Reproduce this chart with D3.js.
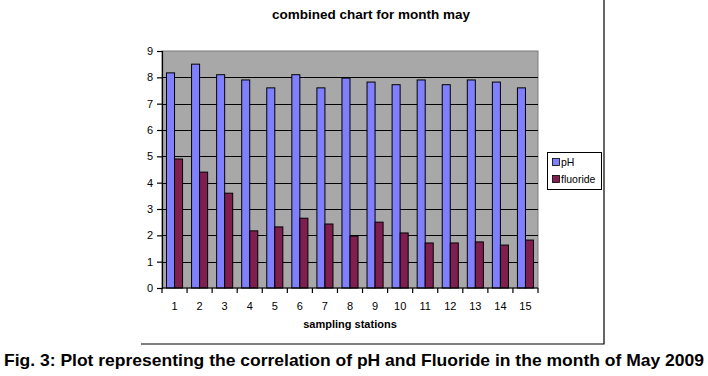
<!DOCTYPE html>
<html>
<head>
<meta charset="utf-8">
<script src="https://cdn.jsdelivr.net/npm/d3@7"></script>
<style>
	body { margin: 0; background: #fff; }
	svg { display: block; font-family: Arial, 'Liberation Sans', sans-serif; }
</style>
</head>
<body>
<div id="chart"></div>
<script>
// data
const stations = ['1', '2', '3', '4', '5', '6', '7', '8', '9', '10', '11', '12', '13', '14', '15'];
const phValues = [8.17, 8.5, 8.1, 7.9, 7.6, 8.1, 7.6, 7.97, 7.82, 7.72, 7.9, 7.72, 7.9, 7.82, 7.6];
const fluorideValues = [4.9, 4.4, 3.6, 2.17, 2.32, 2.65, 2.43, 1.97, 2.5, 2.09, 1.71, 1.71, 1.75, 1.63, 1.82];
const seriesNames = ['pH', 'fluoride'];
const yTicks = [0, 1, 2, 3, 4, 5, 6, 7, 8, 9];

const colors = { pH: '#8080ff', fluoride: '#7f1f4f' };

// set the dimensions of the page and plot area
const W = 708, H = 376;
const plot = { left: 162, top: 51, right: 538, bottom: 288 };

const svg = d3
	.select('#chart')
	.append('svg')
	.attr('width', W)
	.attr('height', H);

// outer chart frame (only right and bottom edges show)
svg.append('path')
	.attr('d', `M604,0V344H141`)
	.attr('fill', 'none')
	.attr('stroke', '#000')
	.attr('stroke-width', 1.2);

// title
svg.append('text')
	.attr('x', 371)
	.attr('y', 19)
	.attr('text-anchor', 'middle')
	.style('font-size', '13.5px')
	.style('font-weight', 'bold')
	.text('combined chart for month may');

// scales
const x = d3.scaleBand().domain(stations).range([plot.left, plot.right]);
const xSub = d3.scaleBand().domain(seriesNames).range([4.5, x.bandwidth() - 4.5]);
const y = d3.scaleLinear().domain([0, 9]).range([plot.bottom, plot.top]);

// plot background
svg.append('rect')
	.attr('x', plot.left)
	.attr('y', plot.top)
	.attr('width', plot.right - plot.left)
	.attr('height', plot.bottom - plot.top)
	.attr('fill', '#a8a8a8')
	.attr('stroke', '#7a7a7a')
	.attr('stroke-width', 1);

// gridlines
svg.append('g')
	.selectAll('line')
	.data(yTicks.filter((t) => t > 0 && t < 9))
	.join('line')
	.attr('x1', plot.left)
	.attr('x2', plot.right)
	.attr('y1', (d) => Math.round(y(d)) + 0.5)
	.attr('y2', (d) => Math.round(y(d)) + 0.5)
	.attr('stroke', '#000')
	.attr('stroke-width', 1);

// bars
const rows = stations.map((s, i) => ({ station: s, pH: phValues[i], fluoride: fluorideValues[i] }));
const groups = svg.append('g')
	.selectAll('g')
	.data(rows)
	.join('g')
	.attr('transform', (d) => `translate(${x(d.station)},0)`);

groups.selectAll('rect')
	.data((d) => seriesNames.map((k) => ({ key: k, value: d[k] })))
	.join('rect')
	.attr('x', (d) => xSub(d.key))
	.attr('width', xSub.bandwidth())
	.attr('y', (d) => y(d.value))
	.attr('height', (d) => y(0) - y(d.value))
	.attr('fill', (d) => colors[d.key])
	.attr('stroke', '#000')
	.attr('stroke-width', 1);

// axes
const yAxis = svg.append('g')
	.attr('transform', `translate(${plot.left},0)`)
	.call(d3.axisLeft(y).tickValues(yTicks).tickSize(5).tickPadding(4).tickFormat(d3.format('d')));
yAxis.selectAll('text').style('font-size', '11px').style('fill', '#000');
yAxis.selectAll('line, path').attr('stroke', '#000').attr('stroke-width', 1.2);

const xAxis = svg.append('g')
	.attr('transform', `translate(0,${plot.bottom})`)
	.call(d3.axisBottom(x).tickSize(0).tickPadding(14));
xAxis.selectAll('text').style('font-size', '11px').style('fill', '#000');
xAxis.select('path').attr('stroke', '#000').attr('stroke-width', 1.2).attr('d', `M${plot.left},0H${plot.right}`);

// tick marks between categories
xAxis.append('g')
	.selectAll('line')
	.data(d3.range(stations.length + 1))
	.join('line')
	.attr('x1', (i) => plot.left + i * x.step())
	.attr('x2', (i) => plot.left + i * x.step())
	.attr('y1', 0)
	.attr('y2', 5)
	.attr('stroke', '#000')
	.attr('stroke-width', 1.2);

// axis title
svg.append('text')
	.attr('x', 350)
	.attr('y', 328)
	.attr('text-anchor', 'middle')
	.style('font-size', '11px')
	.style('font-weight', 'bold')
	.text('sampling stations');

// legend
const legend = svg.append('g');
legend.append('rect')
	.attr('x', 547.5)
	.attr('y', 152.5)
	.attr('width', 54)
	.attr('height', 37)
	.attr('fill', '#fff')
	.attr('stroke', '#000')
	.attr('stroke-width', 1);
seriesNames.forEach((name, i) => {
	legend.append('rect')
		.attr('x', 552.5)
		.attr('y', 158.5 + i * 17)
		.attr('width', 7)
		.attr('height', 7)
		.attr('fill', colors[name])
		.attr('stroke', '#000')
		.attr('stroke-width', 0.8);
	legend.append('text')
		.attr('x', 561)
		.attr('y', 166 + i * 17)
		.style('font-size', '10.5px')
		.text(name);
});

// caption
svg.append('text')
	.attr('x', 4)
	.attr('y', 366)
	.attr('textLength', 700)
	.attr('lengthAdjust', 'spacingAndGlyphs')
	.style('font-family', "'Liberation Sans Narrow', 'Arial Narrow', Arial, sans-serif")
	.style('font-size', '17px')
	.style('font-weight', 'bold')
	.text('Fig. 3: Plot representing the correlation of pH and Fluoride in the month of May 2009');
</script>
</body>
</html>
